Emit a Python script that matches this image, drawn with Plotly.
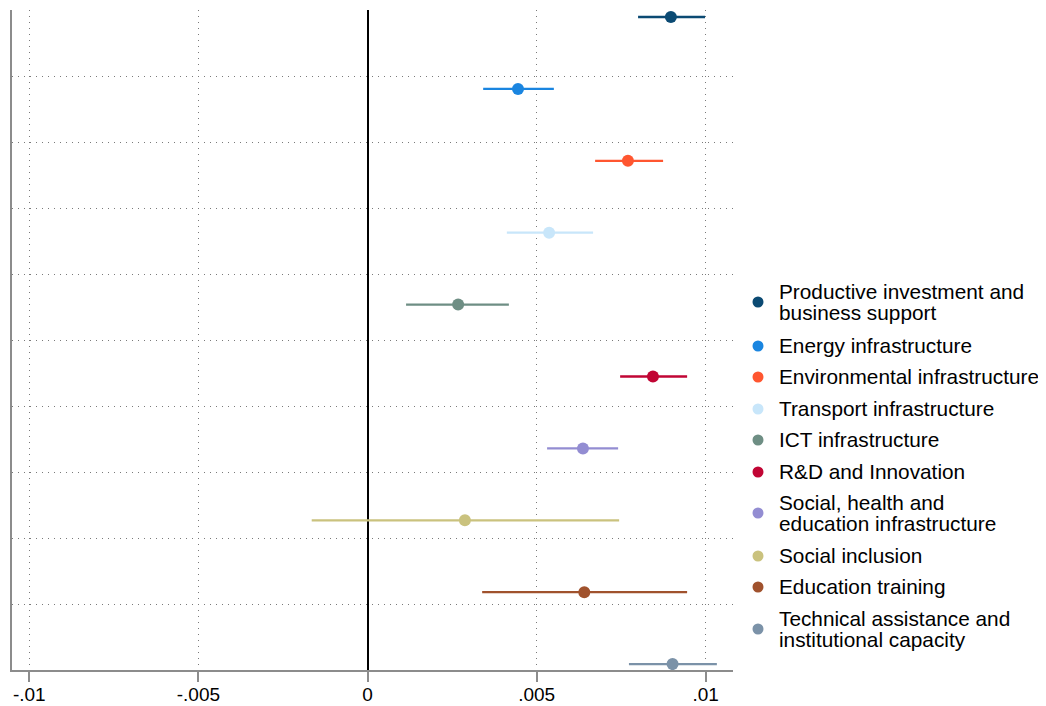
import plotly.graph_objects as go

categories = [
    "Productive investment and business support",
    "Energy infrastructure",
    "Environmental infrastructure",
    "Transport infrastructure",
    "ICT infrastructure",
    "R&D and Innovation",
    "Social, health and education infrastructure",
    "Social inclusion",
    "Education training",
    "Technical assistance and institutional capacity",
]
legend_lines = [
    ["Productive investment and", "business support"],
    ["Energy infrastructure"],
    ["Environmental infrastructure"],
    ["Transport infrastructure"],
    ["ICT infrastructure"],
    ["R&D and Innovation"],
    ["Social, health and", "education infrastructure"],
    ["Social inclusion"],
    ["Education training"],
    ["Technical assistance and", "institutional capacity"],
]
estimates = [0.00897, 0.00445, 0.00770, 0.00537, 0.00268, 0.00844, 0.00637, 0.00288, 0.00641, 0.00902]
ci_low = [0.00800, 0.00342, 0.00673, 0.00412, 0.00114, 0.00747, 0.00531, -0.00165, 0.00339, 0.00773]
ci_high = [0.00998, 0.00551, 0.00874, 0.00667, 0.00418, 0.00945, 0.00741, 0.00744, 0.00945, 0.01033]
colors = ["#0b4a73", "#1a85e0", "#ff5630", "#c8e6fa", "#6e8e84",
          "#c10534", "#938dd2", "#cac27e", "#a0522d", "#7b92a8"]
tick_vals = [-0.01, -0.005, 0, 0.005, 0.01]
tick_text = ["-.01", "-.005", "0", ".005", ".01"]

FONT = "Liberation Sans, Arial, sans-serif"
OFF = 8  # page body margin
W, H = 1046 - OFF, 706 - OFF
PL, PR, PT, PB = 12 - OFF, 733 - OFF, 10 - OFF, 670 - OFF  # plot box in figure px

row_pos = [7 + 71.9 * i for i in range(len(categories))]
grid_rows = [66 * k for k in range(1, 10)]


def px_x(x_abs):
    return (x_abs - OFF - PL) / (PR - PL)


def px_y(y_abs):
    return (PB - (y_abs - OFF)) / (PB - PT)


fig = go.Figure()
for i, name in enumerate(categories):
    fig.add_trace(go.Scatter(
        x=[ci_low[i], ci_high[i]], y=[row_pos[i], row_pos[i]],
        mode="lines", line=dict(color=colors[i], width=2.3),
        showlegend=False, hoverinfo="skip"))
    fig.add_trace(go.Scatter(
        x=[estimates[i]], y=[row_pos[i]], mode="markers",
        marker=dict(color=colors[i], size=12, line=dict(width=0)), name=name,
        showlegend=False))

# manual legend (marker + text)
legend_marker_y = [302, 346, 377, 409, 440, 472, 513, 556, 587, 629]
LEG_FS = 20.8
LINE_GAP = 21
shapes = []
annotations = []
for i, lines in enumerate(legend_lines):
    ym = legend_marker_y[i]
    shapes.append(dict(
        type="circle", xref="paper", yref="paper", xsizemode="pixel", ysizemode="pixel",
        xanchor=px_x(758), yanchor=px_y(ym), x0=-5.5, x1=5.5, y0=-5.5, y1=5.5,
        fillcolor=colors[i], line=dict(width=0)))
    if len(lines) == 1:
        txt, fs = lines[0], LEG_FS
    else:
        # base font sets the tight line spacing; span sets the glyph size
        txt = "<br>".join(f'<span style="font-size:{LEG_FS}px">{t}</span>' for t in lines)
        fs = LINE_GAP / 1.3
    annotations.append(dict(
        text=txt, xref="paper", yref="paper", x=px_x(777), y=px_y(ym - 0.5),
        xanchor="left", yanchor="middle", showarrow=False, align="left",
        font=dict(size=fs, family=FONT, color="black")))

fig.update_layout(
    width=W, height=H,
    margin=dict(l=PL, r=W - PR, t=PT, b=H - PB, autoexpand=False),
    paper_bgcolor="white", plot_bgcolor="white",
    font=dict(family=FONT, color="black"),
    showlegend=False,
    shapes=shapes, annotations=annotations,
    xaxis=dict(
        range=[-0.010512, 0.010807], tickvals=tick_vals, ticktext=tick_text,
        tickfont=dict(size=19, family=FONT, color="black"),
        ticks="outside", ticklen=10, tickcolor="#8c8c8c", tickwidth=1.5,
        ticklabelstandoff=-4,
        showgrid=True, gridcolor="#7a7a7a", griddash="1px,5px", gridwidth=1,
        zeroline=True, zerolinecolor="black", zerolinewidth=1.6,
        showline=True, linecolor="#8c8c8c", linewidth=2,
        automargin=False, fixedrange=True),
    yaxis=dict(
        range=[660, 0], tickvals=grid_rows, showticklabels=False,
        ticks="", showgrid=True, gridcolor="#7a7a7a", griddash="1px,5px", gridwidth=1,
        zeroline=False, showline=True, linecolor="#8c8c8c", linewidth=2,
        automargin=False, fixedrange=True),
)

fig.write_html("out.html")
